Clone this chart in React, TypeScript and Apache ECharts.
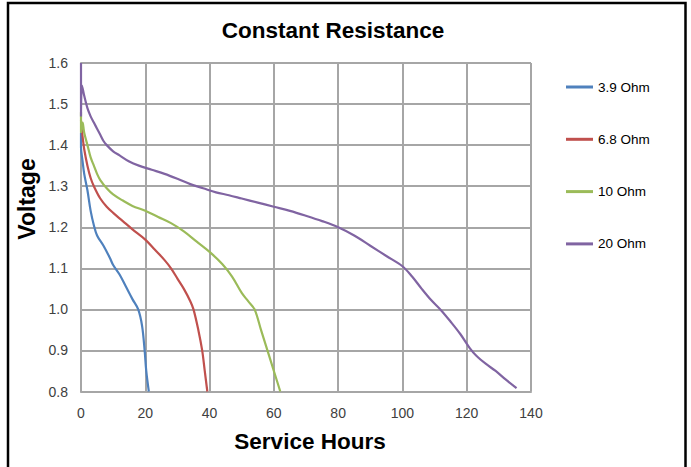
import React, { useEffect, useRef } from "react";
import * as echarts from "echarts";

const seriesNames = ["3.9 Ohm", "6.8 Ohm", "10 Ohm", "20 Ohm"];
const seriesColors = ["#4F81BD", "#C0504D", "#9BBB59", "#8064A2"];

const ohm39: [number, number][] = [
  [0, 1.43], [0, 1.395], [0.5, 1.36], [1, 1.33], [2, 1.29], [3, 1.24], [4, 1.205],
  [5, 1.18], [7, 1.155], [9, 1.125], [10, 1.108], [12, 1.085], [14, 1.055], [16, 1.025],
  [17.8, 1.0], [19, 0.96], [19.8, 0.9], [20.3, 0.85], [21.1, 0.8],
];
const ohm68: [number, number][] = [
  [0, 1.46], [0.5, 1.42], [1, 1.39], [2, 1.35], [3, 1.32], [4, 1.3], [6, 1.27],
  [8, 1.25], [10, 1.235], [13, 1.215], [16, 1.195], [20, 1.17], [23, 1.145],
  [26, 1.12], [28, 1.1], [30, 1.075], [32, 1.05], [34, 1.02], [35, 1.0],
  [36.5, 0.95], [37.7, 0.9], [38.5, 0.85], [39.3, 0.8],
];
const ohm10: [number, number][] = [
  [0, 1.48], [0, 1.43], [0.5, 1.455], [1, 1.43], [2, 1.4], [3, 1.37], [4, 1.35],
  [5, 1.33], [6, 1.315], [8, 1.295], [10, 1.28], [13, 1.265], [16, 1.252],
  [20, 1.24], [24, 1.225], [28, 1.21], [32, 1.19], [36, 1.165], [40, 1.14],
  [44, 1.11], [47, 1.08], [50, 1.04], [52, 1.02], [54, 1.0], [56, 0.95],
  [58, 0.9], [60, 0.85], [62, 0.8],
];
const ohm20: [number, number][] = [
  [0, 1.6], [0, 1.47], [0.3, 1.545], [1, 1.52], [2, 1.49], [3, 1.47], [4, 1.455],
  [5, 1.44], [6, 1.425], [7, 1.41], [8, 1.4], [10, 1.385], [12, 1.375], [15, 1.36],
  [18, 1.35], [22, 1.34], [26, 1.33], [30, 1.318], [34, 1.305], [38, 1.295],
  [42, 1.285], [46, 1.278], [50, 1.27], [55, 1.26], [60, 1.25], [65, 1.24],
  [70, 1.228], [75, 1.215], [80, 1.2], [85, 1.18], [90, 1.155], [95, 1.13],
  [100, 1.105], [103, 1.08], [106, 1.05], [109, 1.022], [112, 0.998], [115, 0.97],
  [118, 0.94], [121, 0.905], [123, 0.887], [126, 0.867], [129, 0.85], [132, 0.83],
  [135.5, 0.808],
];
const seriesData = [ohm39, ohm68, ohm10, ohm20];

const xTicks = { min: 0, max: 140, interval: 20 };
const yTicks = { min: 0.8, max: 1.6, interval: 0.1 };

const titleText = "Constant Resistance";
const xName = "Service Hours";
const yName = "Voltage";

export default function App() {
  const ref = useRef<HTMLDivElement>(null);
  useEffect(() => {
    if (!ref.current) return;
    const chart = echarts.init(ref.current, null, { renderer: "svg" });
    const gridColor = "#A6A6A6";
    chart.setOption({
      animation: false,
      backgroundColor: "#ffffff",
      grid: { left: 81, top: 63, width: 450, height: 328.5 },
      xAxis: {
        type: "value",
        min: xTicks.min,
        max: xTicks.max,
        interval: xTicks.interval,
        axisLine: { show: true, lineStyle: { color: gridColor, width: 2 } },
        axisTick: { show: false },
        splitLine: { show: true, lineStyle: { color: gridColor, width: 2 } },
        axisLabel: { color: "#404040", fontSize: 14, fontFamily: "Liberation Sans", margin: 14 },
      },
      yAxis: {
        type: "value",
        min: yTicks.min,
        max: yTicks.max,
        interval: yTicks.interval,
        axisLine: { show: true, lineStyle: { color: gridColor, width: 2 } },
        axisTick: { show: false },
        splitLine: { show: true, lineStyle: { color: gridColor, width: 2 } },
        axisLabel: {
          color: "#404040",
          fontSize: 14,
          fontFamily: "Liberation Sans",
          margin: 13,
          formatter: (v: number) => v.toFixed(1),
        },
      },
      legend: {
        data: seriesNames,
        orient: "vertical",
        left: 561,
        top: 75,
        icon: "rect",
        itemWidth: 27,
        itemHeight: 3,
        itemGap: 38.3,
        textStyle: { color: "#000", fontSize: 13.5, fontFamily: "Liberation Sans", lineHeight: 14 },
      },
      series: seriesNames.map((name, i) => ({
        name,
        type: "line",
        data: seriesData[i],
        showSymbol: false,
        symbol: "none",
        smooth: 0.35,
        color: seriesColors[i],
        lineStyle: { color: seriesColors[i], width: 2.2 },
      })),
      graphic: [
        {
          type: "rect",
          shape: { x: 8, y: 3, width: 677.5, height: 520 },
          style: { fill: "none", stroke: "#000", lineWidth: 2.5 },
          silent: true,
        },
        {
          type: "text",
          x: 333,
          y: 30,
          style: {
            text: titleText,
            fill: "#000",
            font: "bold 22.5px 'Liberation Sans'",
            textAlign: "center",
            textVerticalAlign: "middle",
          },
        },
        {
          type: "text",
          x: 310,
          y: 441,
          style: {
            text: xName,
            fill: "#000",
            font: "bold 22.5px 'Liberation Sans'",
            textAlign: "center",
            textVerticalAlign: "middle",
          },
        },
        {
          type: "text",
          x: 27,
          y: 199,
          rotation: Math.PI / 2,
          style: {
            text: yName,
            fill: "#000",
            font: "bold 23px 'Liberation Sans'",
            textAlign: "center",
            textVerticalAlign: "middle",
          },
        },
      ],
    });
    return () => chart.dispose();
  }, []);
  return (
    <div
      ref={ref}
      style={{ position: "absolute", left: 0, top: 0, width: 691, height: 467 }}
    />
  );
}
